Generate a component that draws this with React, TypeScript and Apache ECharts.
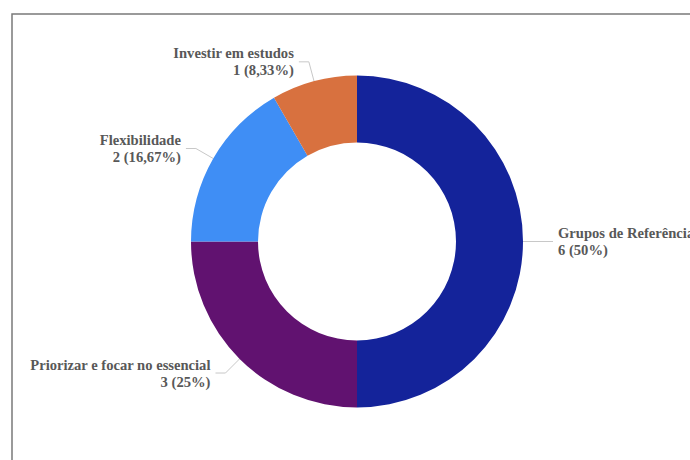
import React, { useEffect, useRef } from "react";
import * as echarts from "echarts";

const categories = [
  "Grupos de Referência",
  "Priorizar e focar no essencial",
  "Flexibilidade",
  "Investir em estudos",
];
const values = [6, 3, 2, 1];
const colors = ["#14239A", "#611270", "#3F8EF5", "#D8713F"];

export default function App() {
  const ref = useRef<HTMLDivElement>(null);
  useEffect(() => {
    if (!ref.current) return;
    const chart = echarts.init(ref.current, undefined, { renderer: "svg" });
    chart.setOption({
      animation: false,
      backgroundColor: "#ffffff",
      graphic: [
        {
          type: "rect",
          shape: { x: 12, y: 14, width: 900, height: 600 },
          style: { fill: "none", stroke: "#7a7a7a", lineWidth: 1.5 },
          silent: true,
        },
      ],
      series: [
        {
          type: "pie",
          center: [357, 241.5],
          radius: [99, 166],
          startAngle: 90,
          clockwise: true,
          avoidLabelOverlap: false,
          data: categories.map((name, i) => ({
            name,
            value: values[i],
            itemStyle: { color: colors[i] },
          })),
          label: {
            show: true,
            fontFamily: "Liberation Serif, Times New Roman, serif",
            fontWeight: "bold",
            fontSize: 14.6,
            lineHeight: 17,
            color: "#585858",
            overflow: "none",
            distanceToLabelLine: 5,
            formatter: (p: any) =>
              `${p.name}\n${p.value} (${String(p.percent).replace(".", ",")}%)`,
          },
          labelLine: {
            show: true,
            length: 20,
            length2: 10,
            lineStyle: { color: "#c8c8c8", width: 1 },
          },
          emphasis: { disabled: true },
        },
      ],
    });
    return () => chart.dispose();
  }, []);
  return (
    <div
      style={{
        position: "fixed",
        left: 0,
        top: 0,
        width: 690,
        height: 460,
        overflow: "hidden",
        background: "#fff",
      }}
    >
      <div ref={ref} style={{ width: 900, height: 460 }} />
    </div>
  );
}
